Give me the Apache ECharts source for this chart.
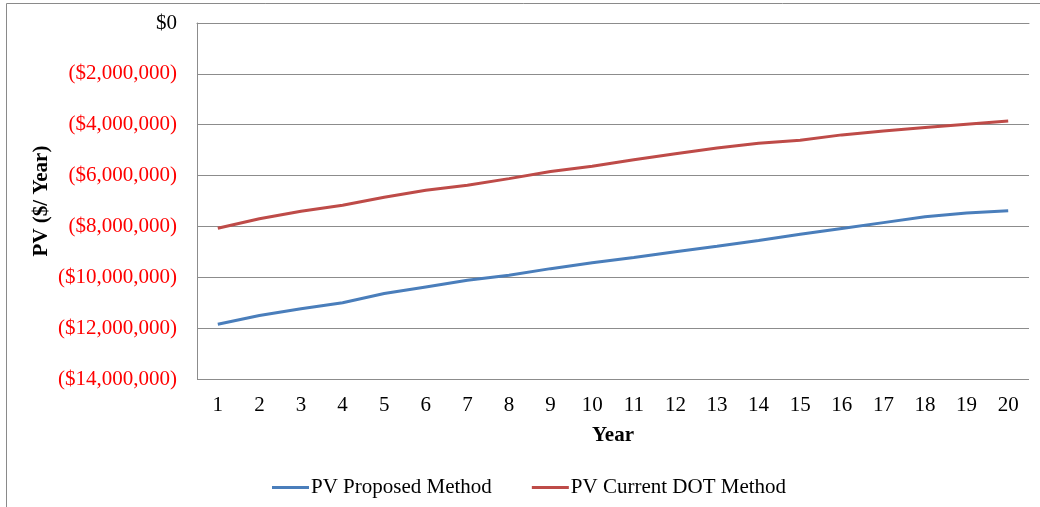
<!DOCTYPE html>
<html>
<head>
<meta charset="utf-8">
<script src="https://cdn.jsdelivr.net/npm/echarts@6/dist/echarts.min.js"></script>
<style>
html,body{margin:0;padding:0;background:#fff;}
#chart{width:1040px;height:507px;}
</style>
</head>
<body>
<div id="chart"></div>
<script>
const years = ['1','2','3','4','5','6','7','8','9','10','11','12','13','14','15','16','17','18','19','20'];
const pvProposed = [-11850000,-11500000,-11240000,-11000000,-10640000,-10380000,-10120000,-9920000,-9660000,-9430000,-9220000,-9000000,-8780000,-8550000,-8310000,-8080000,-7850000,-7620000,-7470000,-7380000];
const pvCurrentDOT = [-8070000,-7700000,-7400000,-7170000,-6850000,-6580000,-6380000,-6120000,-5840000,-5630000,-5380000,-5140000,-4920000,-4730000,-4610000,-4400000,-4250000,-4110000,-3980000,-3850000];
const seriesNames = ['PV Proposed Method','PV Current DOT Method'];
const yAxisTitle = 'PV ($/ Year)';
const xAxisTitle = 'Year';

const chart = echarts.init(document.getElementById('chart'));
const font = '"Liberation Serif", "Times New Roman", serif';
chart.setOption({
  animation:false,
  backgroundColor:'#fff',
  textStyle:{fontFamily:font},
  graphic:[{type:'rect',shape:{x:6.5,y:3.5,width:1040,height:510},style:{fill:'none',stroke:'#8a8a8a',lineWidth:1},silent:true}],
  grid:{left:197,right:11,top:23,bottom:128},
  legend:{
    data:seriesNames, left:267, top:472, icon:'rect', itemWidth:37, itemHeight:3, itemGap:40,
    textStyle:{fontFamily:font,fontSize:21,color:'#000',padding:[0,0,0,-3]}
  },
  xAxis:{
    type:'category', data:years, boundaryGap:true,
    name:xAxisTitle, nameLocation:'middle', nameGap:46, nameMoveOverlap:false,
    nameTextStyle:{fontFamily:font,fontSize:21,fontWeight:'bold',color:'#000'},
    axisLine:{show:true,lineStyle:{color:'#8c8c8c',width:1}},
    axisTick:{show:false},
    axisLabel:{fontFamily:font,fontSize:21,color:'#000',margin:16,interval:0}
  },
  yAxis:{
    type:'value', min:-14000000, max:0, interval:2000000,
    name:yAxisTitle, nameLocation:'middle', nameGap:145, nameRotate:90, nameMoveOverlap:false,
    nameTextStyle:{fontFamily:font,fontSize:21,fontWeight:'bold',color:'#000'},
    axisLine:{show:true,lineStyle:{color:'#8c8c8c',width:1}},
    axisTick:{show:false},
    splitLine:{show:true,lineStyle:{color:'#8c8c8c',width:1}},
    axisLabel:{
      fontFamily:font,fontSize:21,margin:20,
      color:function(v){return Number(v)===0?'#000':'#ff0000';},
      formatter:function(v){return v===0?'$0':'($'+Math.abs(v).toLocaleString('en-US')+')';}
    }
  },
  series:[
    {name:seriesNames[0],type:'line',data:pvProposed,showSymbol:false,symbol:'none',lineStyle:{color:'#4A7EBB',width:3},itemStyle:{color:'#4A7EBB'}},
    {name:seriesNames[1],type:'line',data:pvCurrentDOT,showSymbol:false,symbol:'none',lineStyle:{color:'#BE4B48',width:3},itemStyle:{color:'#BE4B48'}}
  ]
});
</script>
</body>
</html>
